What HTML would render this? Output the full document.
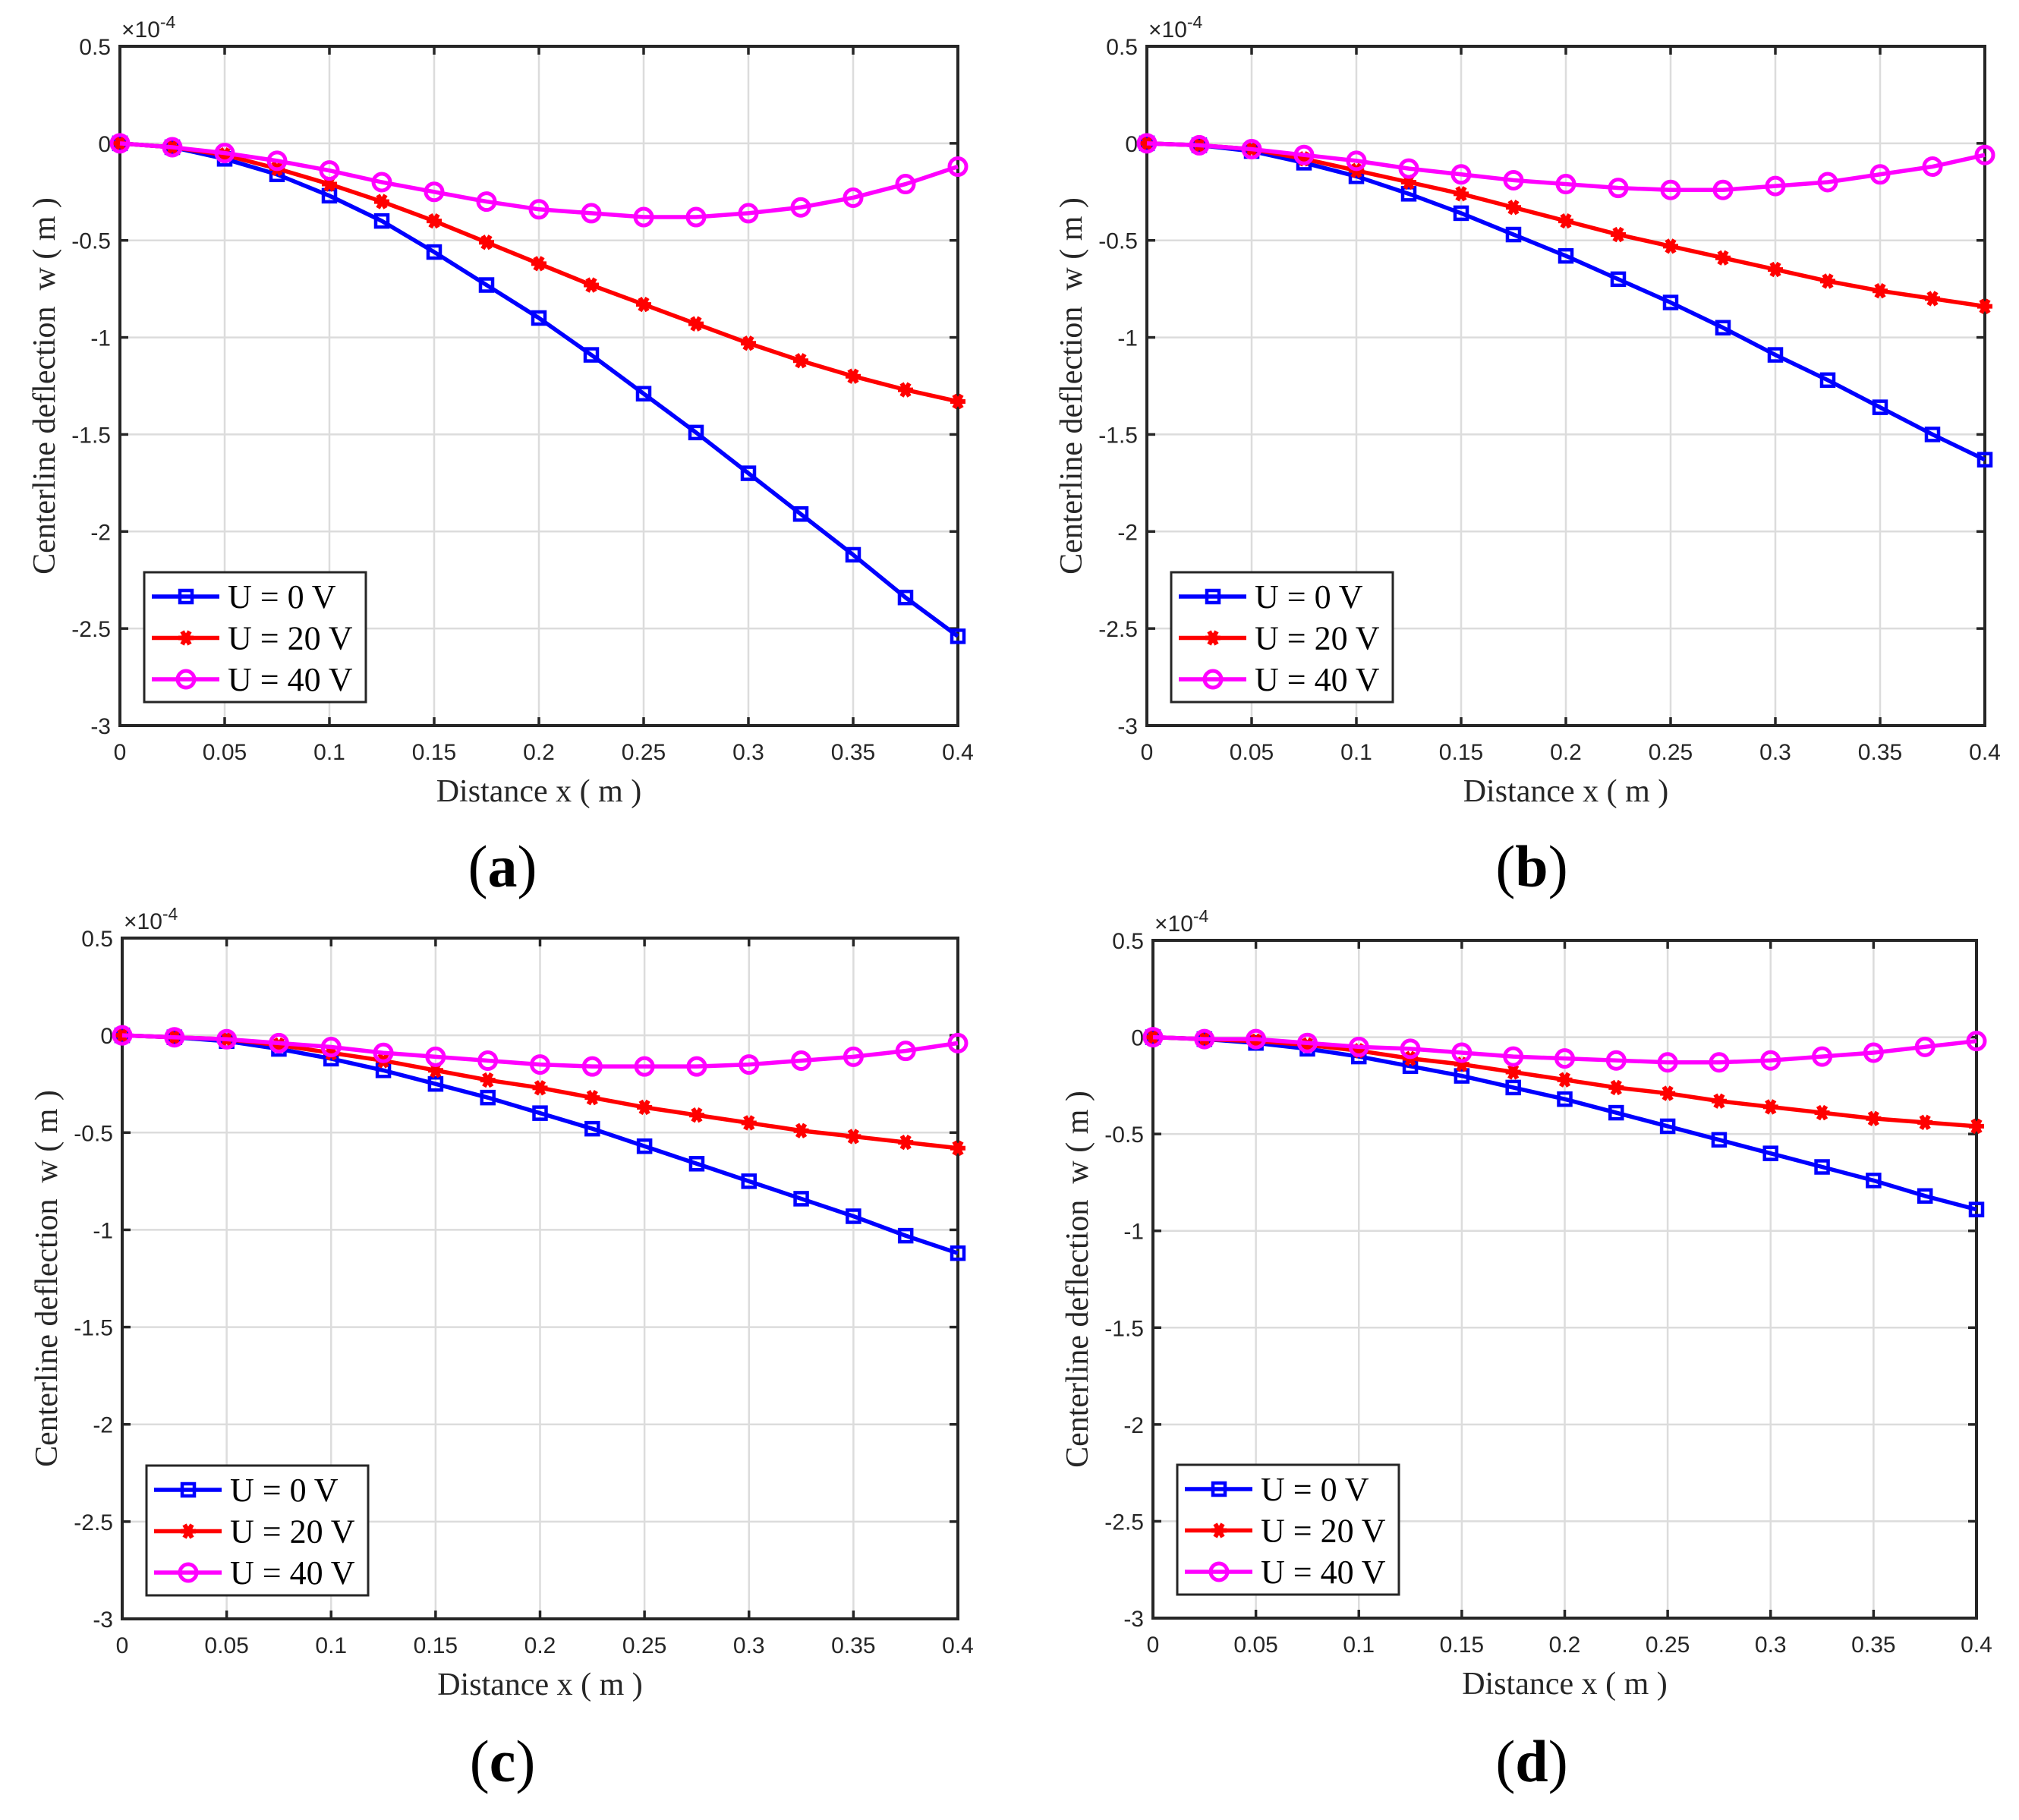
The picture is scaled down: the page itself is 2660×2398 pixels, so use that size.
<!DOCTYPE html>
<html><head><meta charset="utf-8"><style>
html,body{margin:0;padding:0;background:#fff;}
svg{display:block;}
</style></head><body>
<svg id="fig" xmlns="http://www.w3.org/2000/svg" width="2660" height="2398" viewBox="0 0 2660 2398"></svg>
<script>
const xValues=[0,0.025,0.05,0.075,0.1,0.125,0.15,0.175,0.2,0.225,0.25,0.275,0.3,0.325,0.35,0.375,0.4];
const xTicks=[0,0.05,0.1,0.15,0.2,0.25,0.3,0.35,0.4];
const xTickLabels=["0","0.05","0.1","0.15","0.2","0.25","0.3","0.35","0.4"];
const yTicks=[0.5,0,-0.5,-1,-1.5,-2,-2.5,-3];
const yTickLabels=["0.5","0","-0.5","-1","-1.5","-2","-2.5","-3"];
const seriesNames=["U = 0 V","U = 20 V","U = 40 V"];
const panelA_U0=[0,-0.02,-0.08,-0.16,-0.27,-0.40,-0.56,-0.73,-0.90,-1.09,-1.29,-1.49,-1.70,-1.91,-2.12,-2.34,-2.54];
const panelA_U20=[0,-0.02,-0.06,-0.13,-0.21,-0.30,-0.40,-0.51,-0.62,-0.73,-0.83,-0.93,-1.03,-1.12,-1.20,-1.27,-1.33];
const panelA_U40=[0,-0.02,-0.05,-0.09,-0.14,-0.20,-0.25,-0.30,-0.34,-0.36,-0.38,-0.38,-0.36,-0.33,-0.28,-0.21,-0.12];
const panelB_U0=[0,-0.01,-0.04,-0.10,-0.17,-0.26,-0.36,-0.47,-0.58,-0.70,-0.82,-0.95,-1.09,-1.22,-1.36,-1.50,-1.63];
const panelB_U20=[0,-0.01,-0.03,-0.08,-0.14,-0.20,-0.26,-0.33,-0.40,-0.47,-0.53,-0.59,-0.65,-0.71,-0.76,-0.80,-0.84];
const panelB_U40=[0,-0.01,-0.03,-0.06,-0.09,-0.13,-0.16,-0.19,-0.21,-0.23,-0.24,-0.24,-0.22,-0.20,-0.16,-0.12,-0.06];
const panelC_U0=[0,-0.01,-0.03,-0.07,-0.12,-0.18,-0.25,-0.32,-0.40,-0.48,-0.57,-0.66,-0.75,-0.84,-0.93,-1.03,-1.12];
const panelC_U20=[0,-0.01,-0.02,-0.05,-0.09,-0.13,-0.18,-0.23,-0.27,-0.32,-0.37,-0.41,-0.45,-0.49,-0.52,-0.55,-0.58];
const panelC_U40=[0,-0.01,-0.02,-0.04,-0.06,-0.09,-0.11,-0.13,-0.15,-0.16,-0.16,-0.16,-0.15,-0.13,-0.11,-0.08,-0.04];
const panelD_U0=[0,-0.01,-0.03,-0.06,-0.10,-0.15,-0.20,-0.26,-0.32,-0.39,-0.46,-0.53,-0.60,-0.67,-0.74,-0.82,-0.89];
const panelD_U20=[0,-0.01,-0.02,-0.04,-0.07,-0.11,-0.14,-0.18,-0.22,-0.26,-0.29,-0.33,-0.36,-0.39,-0.42,-0.44,-0.46];
const panelD_U40=[0,-0.01,-0.01,-0.03,-0.05,-0.06,-0.08,-0.10,-0.11,-0.12,-0.13,-0.13,-0.12,-0.10,-0.08,-0.05,-0.02];

const NS="http://www.w3.org/2000/svg";
const svg=document.getElementById('fig');
function mk(tag,attrs,parent){const e=document.createElementNS(NS,tag);for(const k in attrs)e.setAttribute(k,attrs[k]);(parent||svg).appendChild(e);return e;}
const SERIF='"Liberation Serif", serif', SANS='"Liberation Sans", sans-serif';
const colors=["#0000ff","#ff0000","#ff00ff"];
const panels=[
 {id:"a",L:158,T:61,R:1262,B:956,data:[panelA_U0,panelA_U20,panelA_U40]},
 {id:"b",L:1511,T:61,R:2615,B:956,data:[panelB_U0,panelB_U20,panelB_U40]},
 {id:"c",L:161,T:1236,R:1262,B:2133,data:[panelC_U0,panelC_U20,panelC_U40]},
 {id:"d",L:1519,T:1239,R:2604,B:2132,data:[panelD_U0,panelD_U20,panelD_U40]}
];
function marker(g,k,x,y,c){
  let m;
  if(k===0){m=mk('rect',{x:x-8,y:y-8,width:16,height:16,fill:'none',stroke:c,'stroke-width':4.5},g);}
  else if(k===1){
    m=mk('g',{},g);
    for(const a of [0,60,120]){const r=a*Math.PI/180;mk('line',{x1:x-10*Math.cos(r),y1:y-10*Math.sin(r),x2:x+10*Math.cos(r),y2:y+10*Math.sin(r),stroke:c,'stroke-width':6},m);}
    mk('circle',{cx:x,cy:y,r:6.5,fill:c},m);
  } else {m=mk('circle',{cx:x,cy:y,r:11,fill:'none',stroke:c,'stroke-width':5},g);}
  return m;
}
panels.forEach(p=>{
  const g=mk('g',{});
  
  
  const sx=v=>p.L+(v-0)/(0.4-0)*(p.R-p.L);
  const sy=v=>p.T+(0.5-v)/(0.5+3)*(p.B-p.T);
  xTicks.forEach(t=>{const l=mk('line',{x1:sx(t),x2:sx(t),y1:p.T,y2:p.B,stroke:'#dcdcdc','stroke-width':2.5},g);});
  yTicks.forEach(t=>{const l=mk('line',{x1:p.L,x2:p.R,y1:sy(t),y2:sy(t),stroke:'#dcdcdc','stroke-width':2.5},g);});
  xTicks.forEach(t=>{mk('line',{x1:sx(t),x2:sx(t),y1:p.B,y2:p.B-11,stroke:'#262626','stroke-width':3.5},g);mk('line',{x1:sx(t),x2:sx(t),y1:p.T,y2:p.T+11,stroke:'#262626','stroke-width':3.5},g);});
  yTicks.forEach(t=>{mk('line',{x1:p.L,x2:p.L+11,y1:sy(t),y2:sy(t),stroke:'#262626','stroke-width':3.5},g);mk('line',{x1:p.R,x2:p.R-11,y1:sy(t),y2:sy(t),stroke:'#262626','stroke-width':3.5},g);});
  const box=mk('rect',{x:p.L,y:p.T,width:p.R-p.L,height:p.B-p.T,fill:'none',stroke:'#262626','stroke-width':4},g);
  
  xTicks.forEach((t,i)=>{const tx=mk('text',{x:sx(t),y:p.B+45,'font-family':SANS,'font-size':30,fill:'#262626','text-anchor':'middle'},g);tx.textContent=xTickLabels[i];});
  yTicks.forEach((t,i)=>{const tx=mk('text',{x:p.L-12,y:sy(t)+11,'font-family':SANS,'font-size':30,fill:'#262626','text-anchor':'end'},g);tx.textContent=yTickLabels[i];});
  const ex=mk('text',{x:p.L+2,y:p.T-12,'font-family':SANS,'font-size':30,fill:'#262626'},g);
  
  ex.innerHTML='×10<tspan dy="-12" font-size="23">-4</tspan>';
  const xl=mk('text',{x:(p.L+p.R)/2,y:p.B+100,'font-family':SERIF,'font-size':42,fill:'#262626','text-anchor':'middle',style:'white-space:pre'},g);
  xl.textContent='Distance x ( m )';
  const yc=(p.T+p.B)/2;
  const yl=mk('text',{x:p.L-86,y:yc,'font-family':SERIF,'font-size':42,fill:'#262626','text-anchor':'middle',style:'white-space:pre',transform:`rotate(-90 ${p.L-86} ${yc})`},g);
  yl.textContent='Centerline deflection  w ( m )';
  p.data.forEach((vals,k)=>{
    const sg=mk('g',{},g);
    
    
    const pts=vals.map((v,i)=>sx(xValues[i])+','+sy(v)).join(' ');
    const pl=mk('polyline',{points:pts,fill:'none',stroke:colors[k],'stroke-width':5.5,'stroke-linejoin':'round'},sg);
    
    vals.forEach((v,i)=>{const m=marker(sg,k,sx(xValues[i]),sy(v),colors[k]);});
  });
  const lg=mk('g',{},g);
  
  const lx=p.L+32, ly=p.B-31-171;
  mk('rect',{x:lx,y:ly,width:292,height:171,fill:'#fff',stroke:'#262626','stroke-width':3},lg);
  seriesNames.forEach((n,k)=>{
    const e=mk('g',{},lg);
    
    const yy=ly+32+k*54.5;
    mk('line',{x1:lx+10,x2:lx+99,y1:yy,y2:yy,stroke:colors[k],'stroke-width':5.5},e);
    marker(e,k,lx+55,yy,colors[k]);
    const t=mk('text',{x:lx+110,y:yy+15,'font-family':SERIF,'font-size':44,fill:'#000'},e);
    t.textContent=n;
  });
  const pcx=p.id==='a'||p.id==='c'?662:2018;
  const pcy=p.id==='a'||p.id==='b'?1141:2320;
  const pt=mk('text',{x:pcx,y:pcy+27,'font-family':SERIF,'font-size':78,fill:'#000','text-anchor':'middle'});
  
  pt.innerHTML='(<tspan font-weight="bold">'+p.id+'</tspan>)';
});
</script>
</body></html>
